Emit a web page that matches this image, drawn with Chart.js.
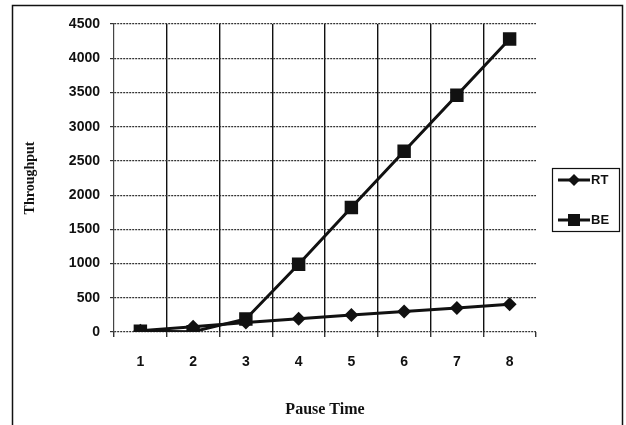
<!DOCTYPE html>
<html>
<head>
<meta charset="utf-8">
<script src="https://cdn.jsdelivr.net/npm/chart.js@4/dist/chart.umd.min.js"></script>
<style>
    body { margin: 0; background: #fff; }
    canvas { display: block; }
</style>
</head>
<body>
<canvas id="grafica" width="626" height="425"></canvas>
<script>
// datos
const tiempos = ["1", "2", "3", "4", "5", "6", "7", "8"];
const valoresRT = [20, 75, 140, 195, 250, 300, 350, 405];
const valoresBE = [10, 5, 190, 990, 1820, 2640, 3460, 4280];
const marcasY = [0, 500, 1000, 1500, 2000, 2500, 3000, 3500, 4000, 4500];

const fuenteTicks = { family: "'Liberation Sans', Arial, sans-serif", size: 14, weight: "bold" };

// marco exterior y leyenda dibujados a mano
const marcoYLeyenda = {
    id: "marcoYLeyenda",
    afterDraw(chart) {
        const ctx = chart.ctx;
        ctx.save();
        ctx.strokeStyle = "#111";
        ctx.lineWidth = 1.5;
        ctx.strokeRect(12.5, 5.5, 610, 430);

        // caja de la leyenda
        ctx.lineWidth = 1.2;
        ctx.strokeRect(552.5, 168.5, 67, 63);

        const items = chart.data.datasets;
        const ys = [180, 220];
        for (let i = 0; i < items.length; i++) {
            const y = ys[i];
            ctx.strokeStyle = "#111";
            ctx.lineWidth = 3;
            ctx.beginPath();
            ctx.moveTo(558, y);
            ctx.lineTo(590, y);
            ctx.stroke();
            ctx.fillStyle = "#111";
            if (items[i].pointStyle == "rect") {
                ctx.fillRect(568, y - 6, 12, 12);
            } else {
                ctx.beginPath();
                ctx.moveTo(574, y - 6);
                ctx.lineTo(580, y);
                ctx.lineTo(574, y + 6);
                ctx.lineTo(568, y);
                ctx.closePath();
                ctx.fill();
            }
            ctx.font = "bold 13px 'Liberation Sans', Arial, sans-serif";
            ctx.textBaseline = "middle";
            ctx.textAlign = "left";
            ctx.fillText(items[i].label, 591, y);
        }
        ctx.restore();
    }
};

const ctx = document.getElementById('grafica').getContext('2d');
const grafica = new Chart(ctx, {
    type: 'line',
    data: {
        labels: tiempos,
        datasets: [{
            label: 'RT',
            data: valoresRT,
            borderColor: '#111',
            backgroundColor: '#111',
            borderWidth: 3,
            pointStyle: 'rectRot',
            pointRadius: 7,
            pointBorderWidth: 0,
            tension: 0
        }, {
            label: 'BE',
            data: valoresBE,
            borderColor: '#111',
            backgroundColor: '#111',
            borderWidth: 3,
            pointStyle: 'rect',
            pointRadius: 9.5,
            pointBorderWidth: 0,
            tension: 0
        }]
    },
    options: {
        responsive: false,
        animation: false,
        devicePixelRatio: 1,
        layout: {
            padding: { left: 12, right: 90, top: 24, bottom: 0 }
        },
        plugins: {
            legend: { display: false },
            tooltip: { enabled: false }
        },
        scales: {
            x: {
                type: 'category',
                offset: true,
                afterFit: function (scale) { scale.height = 93; },
                grid: {
                    offset: true,
                    color: function (c) {
                        if (c.index === undefined || c.index === 0) return 'rgba(0,0,0,0)';
                        return '#111';
                    },
                    lineWidth: 1.4,
                    tickLength: 5,
                    tickColor: '#333'
                },
                border: { display: false },
                ticks: {
                    color: '#111',
                    font: fuenteTicks,
                    padding: 17
                },
                title: {
                    display: true,
                    text: 'Pause Time',
                    color: '#111',
                    font: { family: "'Liberation Serif', 'Times New Roman', serif", size: 16, weight: 'bold' },
                    padding: { top: 0, bottom: 6 }
                }
            },
            y: {
                min: 0,
                max: 4500,
                afterFit: function (scale) { scale.width = 102; },
                afterBuildTicks: function (scale) {
                    scale.ticks = marcasY.map(v => ({ value: v }));
                },
                grid: {
                    color: '#333',
                    lineWidth: 1.2,
                    tickLength: 4,
                    tickColor: '#333'
                },
                border: { display: true, color: '#444', width: 1.2, dash: [2, 1] },
                ticks: {
                    color: '#111',
                    font: fuenteTicks,
                    padding: 10,
                    callback: function (valor) { return String(valor); }
                },
                title: {
                    display: true,
                    text: 'Throughput',
                    color: '#111',
                    font: { family: "'Liberation Serif', 'Times New Roman', serif", size: 14, weight: 'bold' },
                    padding: { top: 10, bottom: 0 }
                }
            }
        }
    },
    plugins: [marcoYLeyenda]
});
</script>
</body>
</html>
